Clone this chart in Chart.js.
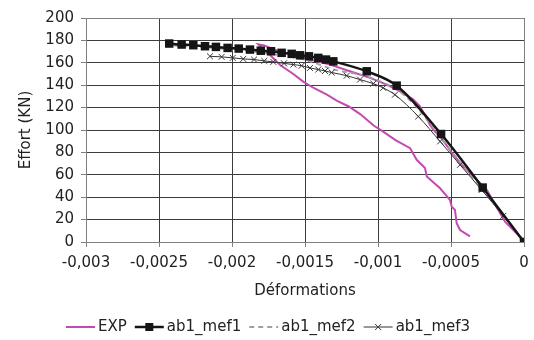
<!DOCTYPE html>
<html>
<head>
<meta charset="utf-8">
<script src="https://cdn.jsdelivr.net/npm/chart.js@4"></script>
<style>
  html, body { margin: 0; padding: 0; background: #fff; }
  #wrap { width: 534px; height: 340px; }
</style>
</head>
<body>
<div id="wrap"><canvas id="graphe" width="534" height="340"></canvas></div>
<script>
// ---------------------------------------------------------
// Données
// ---------------------------------------------------------
const xTicks = [-0.003, -0.0025, -0.002, -0.0015, -0.001, -0.0005, 0];
const yTicks = [0, 20, 40, 60, 80, 100, 120, 140, 160, 180, 200];

const expX = [0, -0.000005, -0.000073, -0.00013, -0.000176, -0.00021, -0.000255, -0.000324, -0.000416, -0.000484,
  -0.000541, -0.000575, -0.000621, -0.000644, -0.000712, -0.000758, -0.000849, -0.00094, -0.001055, -0.001192,
  -0.001329, -0.001512, -0.001671, -0.00178, -0.00182,
  -0.00178, -0.00174, -0.00167, -0.00158, -0.00151, -0.00144, -0.00135, -0.00128, -0.0012, -0.00112,
  -0.00103, -0.00097, -0.00088, -0.00078, -0.000735, -0.000678, -0.000666, -0.000575, -0.000507, -0.000495,
  -0.000473, -0.000461, -0.000438, -0.00037];
const expY = [0, 1.8, 10.7, 18.2, 28.6, 36.1, 46.5, 55.5, 67.4, 77.9,
  88.3, 94.2, 100.2, 104.7, 121.1, 127.1, 134.5, 140.5, 146.5, 152.4,
  158.4, 164.4, 170, 175.5, 176.5,
  171, 167, 158, 150, 143, 137.5, 131.5, 126, 121, 114,
  104, 99, 91, 83.8, 73.4, 66, 58.4, 48, 37.6, 31.6,
  28.6, 16.7, 10.7, 5];

const mef1X = [-0.00243, -0.002345, -0.002265, -0.002185, -0.00211, -0.00203, -0.001954, -0.001877, -0.001803,
  -0.001733, -0.00166, -0.001591, -0.001534, -0.001473, -0.001409, -0.001356, -0.001306,
  -0.001077, -0.000872, -0.000568, -0.000283, 0];
const mef1Y = [177.2, 176.3, 175.7, 174.8, 174.2, 173.3, 172.7, 171.8, 170.8,
  170.3, 168.9, 168, 166.7, 165.8, 164.4, 162.9, 161.3,
  152.4, 139.6, 96.4, 48.6, 0];

const mef2X = [-0.0024, -0.0021, -0.0018, -0.0015, -0.0013, -0.00108, -0.00096, -0.00087, -0.00074,
  -0.00057, -0.00043, -0.00029, -0.00014, 0];
const mef2Y = [175.5, 173, 169, 162.5, 154, 148, 142, 136, 121,
  93, 70, 47.5, 24, 0];

const mef3X = [-0.002151, -0.002071, -0.001995, -0.001923, -0.001849, -0.001779, -0.001717, -0.001644, -0.00158,
  -0.001523, -0.001466, -0.001409, -0.001363, -0.001317, -0.001214, -0.001123, -0.001032, -0.000964,
  -0.000884, -0.000724, -0.000575, -0.000438, -0.00029, -0.000142, 0];
const mef3Y = [165.8, 165.3, 164.4, 163.5, 162.9, 161.7, 160.8, 159.5, 158.4,
  157.4, 155.4, 154, 152.7, 151.3, 148.5, 145, 141.4, 137.6,
  131.5, 112.1, 89.8, 68.9, 46.5, 23.3, 0];

const FONT = "'DejaVu Sans', sans-serif";
const GRIS_AXE = "#808080";

function points(xs, ys) {
  return xs.map((x, i) => ({ x: x, y: ys[i] }));
}

function formatVirgule(v) {
  const n = Number(Number(v).toFixed(5));
  return (n === 0 ? "0" : String(n)).replace(".", ",");
}

// ---------------------------------------------------------
// Cadre du graphique (haut et droite) + légende dessinée à la main
// ---------------------------------------------------------
const cadre = {
  id: "cadre",
  afterDatasetsDraw(chart) {
    const { ctx, chartArea: a } = chart;
    ctx.save();
    ctx.strokeStyle = GRIS_AXE;
    ctx.lineWidth = 1;
    ctx.beginPath();
    ctx.moveTo(a.left, a.top + 0.5);
    ctx.lineTo(a.right + 0.5, a.top + 0.5);
    ctx.lineTo(a.right + 0.5, a.bottom);
    ctx.stroke();
    ctx.restore();
  },
  afterDraw(chart) {
    const ctx = chart.ctx;
    const y = 327;
    let x = 66;
    ctx.save();
    ctx.font = "15px " + FONT;
    ctx.fillStyle = "#222";
    ctx.textBaseline = "middle";
    chart.data.datasets.forEach((ds) => {
      ctx.save();
      ctx.strokeStyle = ds.borderColor;
      ctx.lineWidth = ds.borderWidth;
      ctx.setLineDash(ds.borderDash || []);
      ctx.beginPath();
      ctx.moveTo(x, y);
      ctx.lineTo(x + 29, y);
      ctx.stroke();
      ctx.setLineDash([]);
      if (ds.pointRadius > 0) {
        ctx.fillStyle = ds.pointBackgroundColor;
        ctx.strokeStyle = ds.pointBorderColor;
        ctx.lineWidth = ds.pointBorderWidth;
        ctx.beginPath();
        if (ds.pointStyle === "rect") {
          ctx.rect(x + 10.5, y - 4, 8, 8);
          ctx.fill();
        } else {
          ctx.moveTo(x + 11.5, y - 3); ctx.lineTo(x + 17.5, y + 3);
          ctx.moveTo(x + 17.5, y - 3); ctx.lineTo(x + 11.5, y + 3);
          ctx.stroke();
        }
      }
      ctx.restore();
      x += 32;
      ctx.fillText(ds.label, x, y);
      x += ctx.measureText(ds.label).width + 8;
    });
    ctx.restore();
  }
};

// ---------------------------------------------------------
// Graphique
// ---------------------------------------------------------
const grille = {
  color: "#3c3c3c",
  lineWidth: 1,
  borderDash: [5, 2, 1, 2],
  tickLength: 5,
  tickColor: GRIS_AXE,
  tickBorderDash: []
};

new Chart(document.getElementById("graphe"), {
  type: "scatter",
  data: {
    datasets: [
      {
        label: "EXP",
        data: points(expX, expY),
        showLine: true,
        borderColor: "#c44aae",
        borderWidth: 2,
        pointRadius: 0,
        tension: 0,
        order: 4
      },
      {
        label: "ab1_mef1",
        data: points(mef1X, mef1Y),
        showLine: true,
        borderColor: "#151515",
        borderWidth: 2.5,
        pointStyle: "rect",
        pointRadius: 6,
        pointBackgroundColor: "#151515",
        pointBorderColor: "#151515",
        pointBorderWidth: 0,
        cubicInterpolationMode: "monotone",
        order: 1
      },
      {
        label: "ab1_mef2",
        data: points(mef2X, mef2Y),
        showLine: true,
        borderColor: "#a0a0a0",
        borderWidth: 1.8,
        borderDash: [5, 4],
        pointRadius: 0,
        cubicInterpolationMode: "monotone",
        order: 3
      },
      {
        label: "ab1_mef3",
        data: points(mef3X, mef3Y),
        showLine: true,
        borderColor: "#333",
        borderWidth: 1,
        pointStyle: "crossRot",
        pointRadius: 4.2,
        pointBackgroundColor: "#333",
        pointBorderColor: "#333",
        pointBorderWidth: 1,
        cubicInterpolationMode: "monotone",
        order: 2
      }
    ]
  },
  options: {
    responsive: false,
    animation: false,
    events: [],
    layout: { padding: { left: 0, right: 10, top: 18, bottom: 40 } },
    plugins: {
      legend: { display: false },
      tooltip: { enabled: false }
    },
    scales: {
      x: {
        type: "linear",
        min: xTicks[0],
        max: xTicks[xTicks.length - 1],
        afterBuildTicks: (axis) => { axis.ticks = xTicks.map((v) => ({ value: v })); },
        afterFit: (axis) => {
          axis.height = 58;
          axis.paddingLeft = 0;
          axis.paddingRight = 0;
        },
        grid: grille,
        border: { display: true, color: GRIS_AXE, width: 1 },
        ticks: {
          padding: 7,
          color: "#222",
          font: { family: FONT, size: 15 },
          maxRotation: 0,
          callback: (v) => formatVirgule(v)
        },
        title: {
          display: true,
          text: "Déformations",
          color: "#222",
          font: { family: FONT, size: 15 },
          padding: { top: 0, bottom: 0 }
        }
      },
      y: {
        type: "linear",
        min: yTicks[0],
        max: yTicks[yTicks.length - 1],
        afterBuildTicks: (axis) => { axis.ticks = yTicks.map((v) => ({ value: v })); },
        afterFit: (axis) => {
          axis.width = 86;
          axis.paddingTop = 0;
          axis.paddingBottom = 0;
        },
        grid: grille,
        border: { display: true, color: GRIS_AXE, width: 1 },
        ticks: {
          padding: 7,
          color: "#222",
          font: { family: FONT, size: 15 },
          callback: (v) => String(v)
        },
        title: {
          display: true,
          text: "Effort (KN)",
          color: "#222",
          font: { family: FONT, size: 15 },
          padding: { top: 17, bottom: 0 }
        }
      }
    }
  },
  plugins: [cadre]
});
</script>
</body>
</html>
